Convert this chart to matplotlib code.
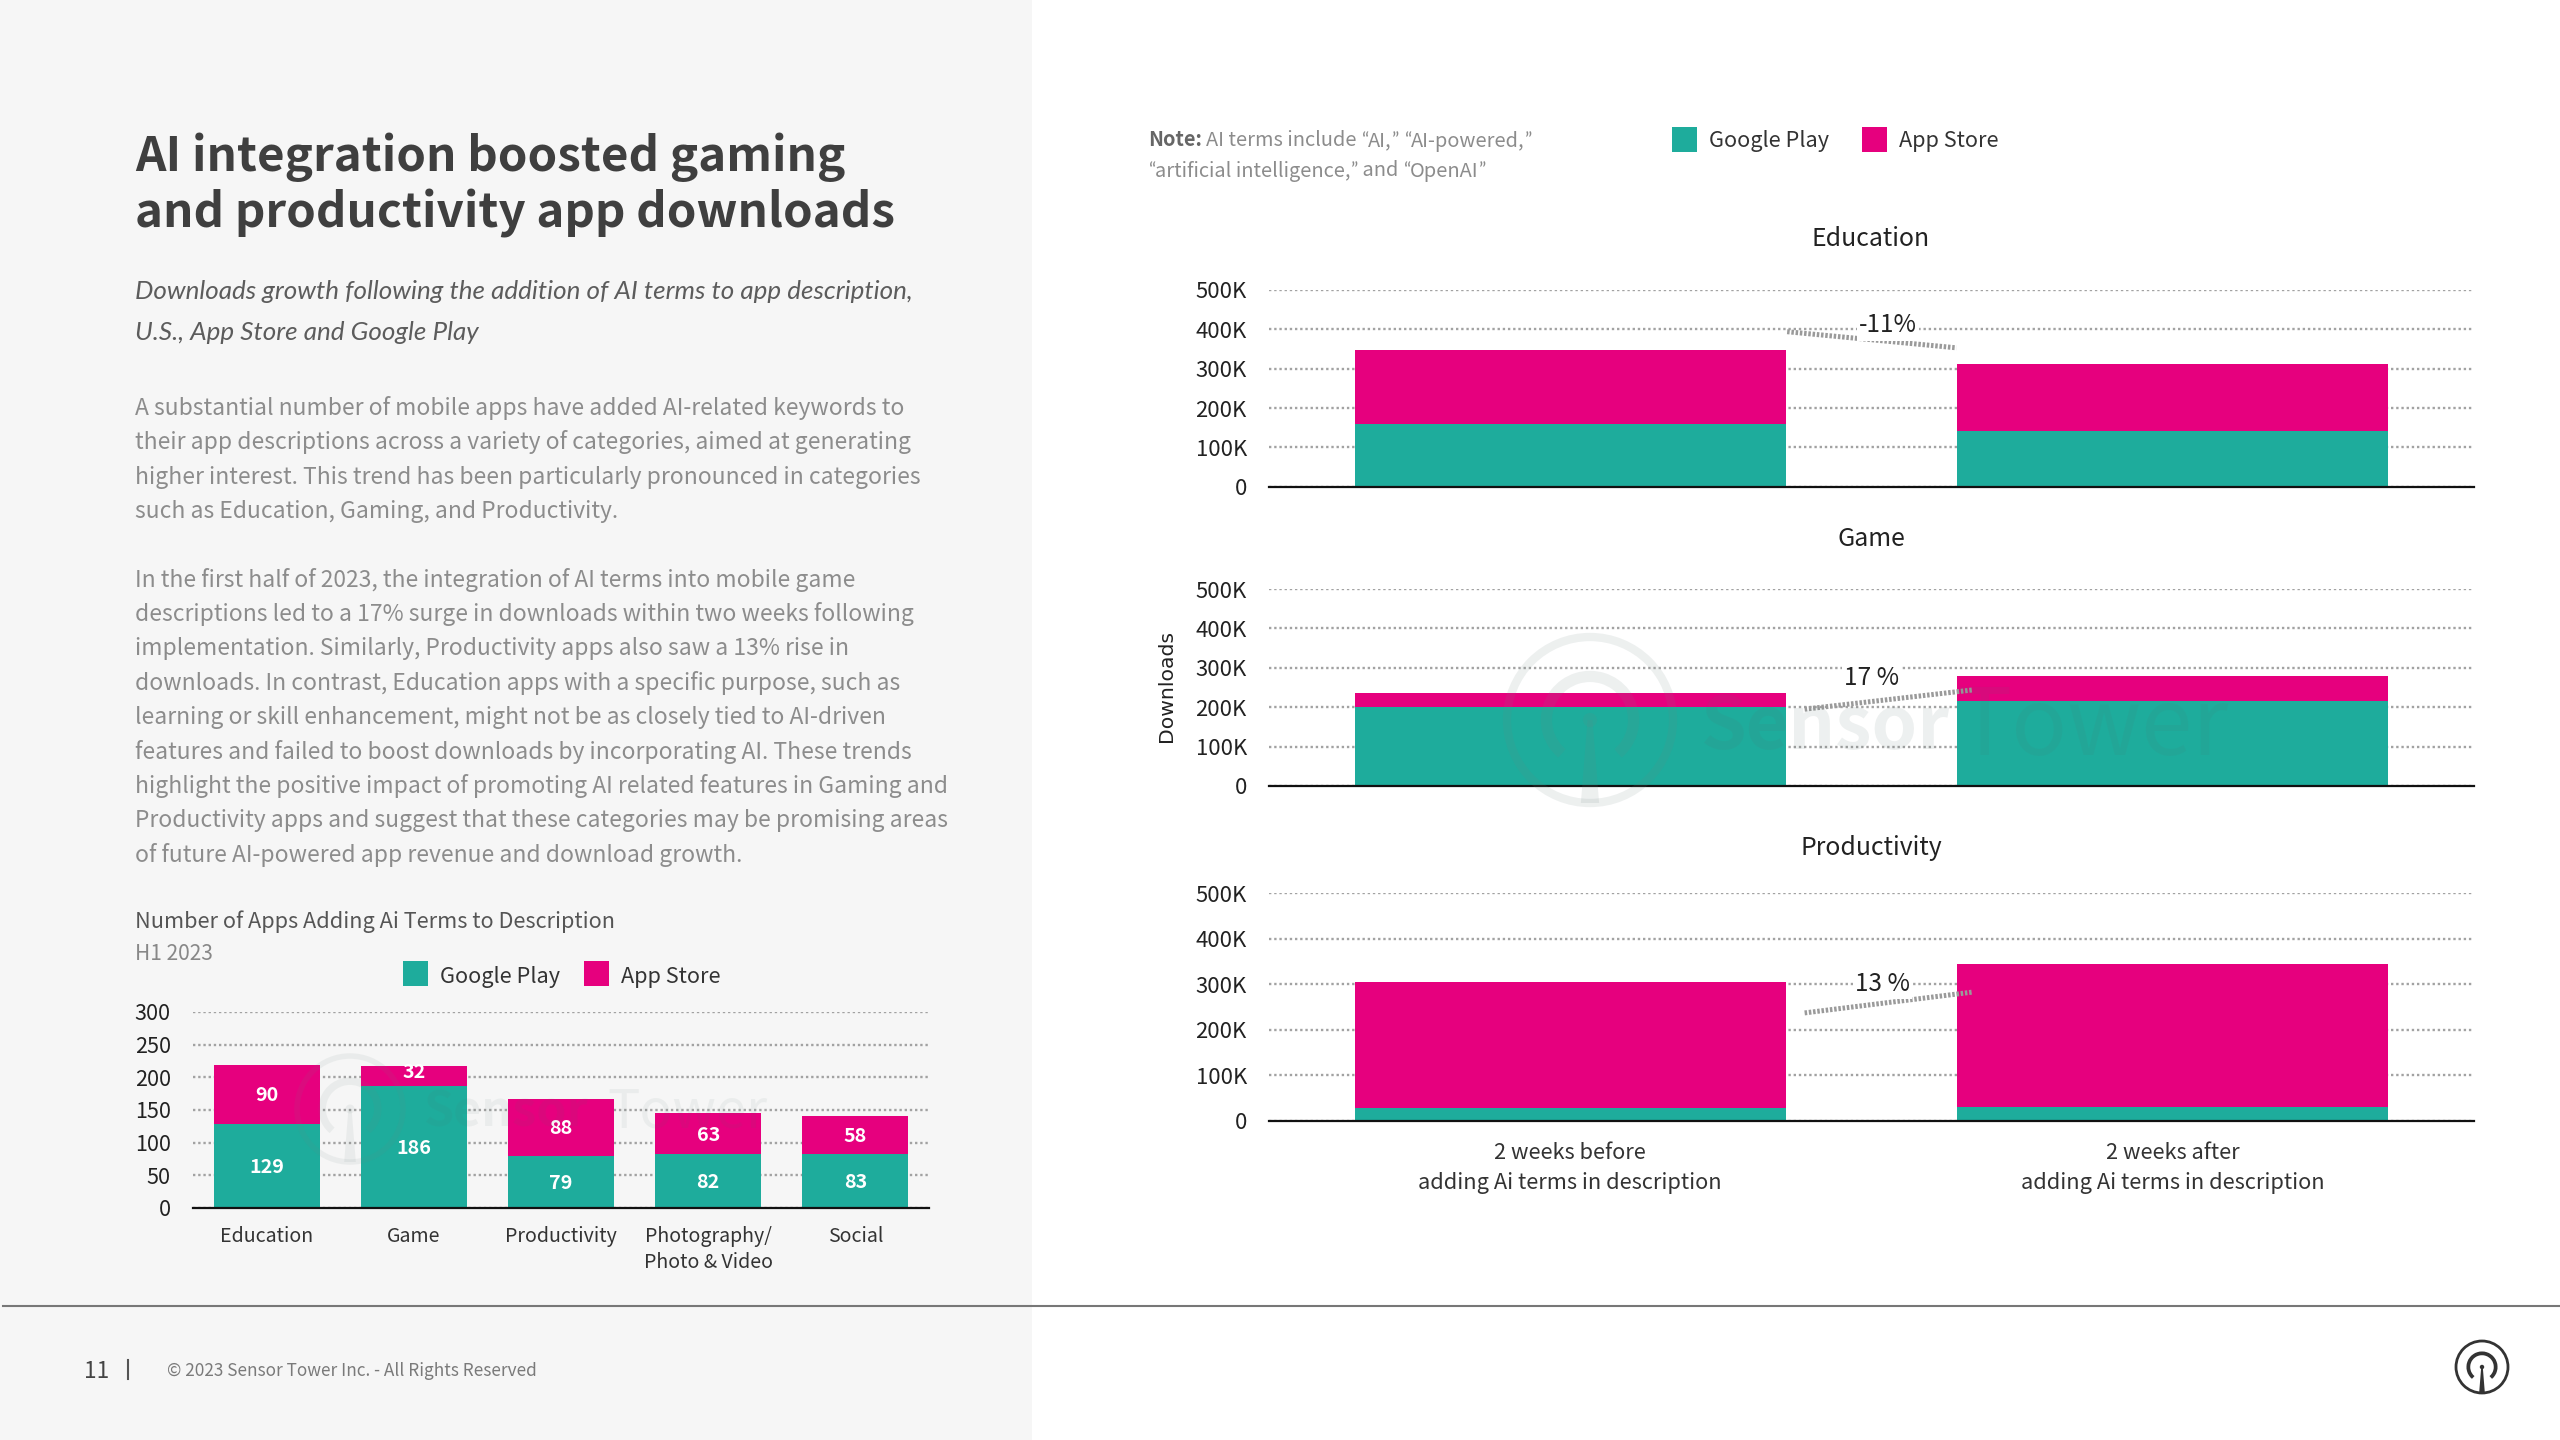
import matplotlib
matplotlib.use("Agg")
import re
import matplotlib.pyplot as plt
from matplotlib.patches import Rectangle, Circle, Arc, Polygon

W, H = 2560, 1440
GREEN = "#1EAC9C"
PINK = "#E6007E"
FONT = "Noto Sans CJK SC"
ITALIC = "Lato"
QUOTE = "Lato"

# data ------------------------------------------------------------
small_categories = ["Education", "Game", "Productivity", "Photography/\nPhoto & Video", "Social"]
small_google = [129, 186, 79, 82, 83]
small_apple = [90, 32, 88, 63, 58]
small_ticks = [0, 50, 100, 150, 200, 250, 300]

period_labels = ["2 weeks before\nadding Ai terms in description", "2 weeks after\nadding Ai terms in description"]
edu_google = [159, 142]
edu_apple = [188, 170]
game_google = [201, 216]
game_apple = [34, 62]
prod_google = [29, 30]
prod_apple = [277, 315]
k_ticks = [0, 100, 200, 300, 400, 500]
k_labels = ["0", "100K", "200K", "300K", "400K", "500K"]

title_lines = ["AI integration boosted gaming", "and productivity app downloads"]
subtitle_lines = ["Downloads growth following the addition of AI terms to app description,",
                  "U.S., App Store and Google Play"]
para1 = ["A substantial number of mobile apps have added AI-related keywords to",
         "their app descriptions across a variety of categories, aimed at generating",
         "higher interest. This trend has been particularly pronounced in categories",
         "such as Education, Gaming, and Productivity."]
para2 = ["In the first half of 2023, the integration of AI terms into mobile game",
         "descriptions led to a 17% surge in downloads within two weeks following",
         "implementation. Similarly, Productivity apps also saw a 13% rise in",
         "downloads. In contrast, Education apps with a specific purpose, such as",
         "learning or skill enhancement, might not be as closely tied to AI-driven",
         "features and failed to boost downloads by incorporating AI. These trends",
         "highlight the positive impact of promoting AI related features in Gaming and",
         "Productivity apps and suggest that these categories may be promising areas",
         "of future AI-powered app revenue and download growth."]
note_line1 = "AI terms include “AI,” “AI-powered,”"
note_line2 = "“artificial intelligence,” and “OpenAI”"

plt.rcParams["font.family"] = [FONT, "DejaVu Sans"]
fig = plt.figure(figsize=(W/100, H/100), dpi=100, facecolor="white")
rend = fig.canvas.get_renderer()

def width_at(s, size, **kw):
    tx = fig.text(0, 0, s, fontsize=size, **kw)
    w = tx.get_window_extent(rend).width
    tx.remove()
    return w

def size_for(s, px_w, **kw):
    return 20 * px_w / width_at(s, 20, **kw)

px = fig.add_axes([0, 0, 1, 1], zorder=0)
px.set_xlim(0, W); px.set_ylim(H, 0); px.axis("off")
px.add_patch(Rectangle((0, 0), 1032, H, color="#F6F6F6", lw=0))
px.plot([3, W], [1306, 1306], color="#777777", lw=1.5)

def t(x, y, s, size, color="#3d3d3d", **kw):
    kw.setdefault("va", "baseline")
    return px.text(x, y, s, fontsize=size, color=color, **kw)

def quoted(x, y, s, size, color, **kw):
    # curly quotes are full width in the CJK family, so they are set in another face
    for part in re.split("([“”])", s):
        if not part:
            continue
        if part in "“”":
            t(x, y, part, size, color, family=QUOTE)
            x += width_at("x" + part + "x", size, family=QUOTE) - width_at("xx", size, family=QUOTE)
        else:
            t(x, y, part, size, color, **kw)
            x += width_at("x" + part + "x", size, **kw) - width_at("xx", size, **kw)

LIGHT = dict(fontweight="light")
BOLD = dict(fontweight="bold")

s_title = size_for(title_lines[1], 760, **BOLD)
for s, y in zip(title_lines, [171, 227]):
    t(135, y, s, s_title, "#3f3f3f", **BOLD)
s_sub = size_for(subtitle_lines[0], 776, family=ITALIC, style="italic")
for s, y in zip(subtitle_lines, [299, 340]):
    t(135, y, s, s_sub, "#5c5c5c", family=ITALIC, style="italic")
s_body = size_for(para1[2], 783, **LIGHT)
for i, s in enumerate(para1):
    t(135, 415 + i*34.3, s, s_body, "#8c8c8c", **LIGHT)
for i, s in enumerate(para2):
    t(135, 586.5 + i*34.4, s, s_body, "#8c8c8c", **LIGHT)
t(135, 928, "Number of Apps Adding Ai Terms to Description",
  size_for("Number of Apps Adding Ai Terms to Description", 480, **LIGHT), "#555555", **LIGHT)
t(135, 960, "H1 2023", size_for("H1 2023", 78, **LIGHT), "#888888", **LIGHT)
s_note = size_for("artificial intelligence,", 196, **LIGHT)
t(1148, 146.5, "Note:", s_note, "#666666", **BOLD)
quoted(1206, 146.5, note_line1, s_note, "#8c8c8c", **LIGHT)
quoted(1148, 176.5, note_line2, s_note, "#8c8c8c", **LIGHT)
t(84, 1378, "11", size_for("11", 25), "#444444")
px.plot([127.5, 127.5], [1360, 1379], color="#555555", lw=1.5)
t(167, 1376, "© 2023 Sensor Tower Inc. - All Rights Reserved",
  size_for("© 2023 Sensor Tower Inc. - All Rights Reserved", 369, **LIGHT), "#7a7a7a", **LIGHT)

def legend(x1, x2, base, ytop, ybot):
    s = size_for("Google Play", 120)
    px.add_patch(Rectangle((x1, ytop), 25, ybot-ytop, color=GREEN, lw=0))
    t(x1+37, base, "Google Play", s, "#333333")
    px.add_patch(Rectangle((x2, ytop), 25, ybot-ytop, color=PINK, lw=0))
    t(x2+37, base, "App Store", s, "#333333")
legend(403, 584, 982.5, 961, 986)
legend(1672, 1862, 146.5, 127, 152)

def logo(ax_, cx, cy, r, color, alpha, lw):
    ax_.add_patch(Circle((cx, cy), r, fill=False, ec=color, alpha=alpha, lw=lw))
    ax_.add_patch(Arc((cx, cy), r*1.05, r*1.05, theta1=-230, theta2=50, ec=color, alpha=alpha, lw=lw*1.35))
    ax_.add_patch(Circle((cx, cy), r*0.085, color=color, alpha=alpha, lw=0))
    ax_.add_patch(Polygon([(cx-r*0.03, cy), (cx+r*0.03, cy), (cx+r*0.11, cy+r), (cx-r*0.11, cy+r)], color=color, alpha=alpha, lw=0))
logo(px, 2482, 1367, 26, "#333333", 1, 2)

def style(ax, ysize, xsize, pad):
    for s in ["top", "left", "right"]:
        ax.spines[s].set_visible(False)
    ax.spines["bottom"].set_linewidth(1.6)
    ax.spines["bottom"].set_color("#111111")
    ax.spines["bottom"].set_zorder(5)
    ax.grid(axis="y", color="#a2a2a2", ls=(0, (1, 1.2)), lw=1.7, zorder=1)
    ax.set_axisbelow(True)
    ax.tick_params(axis="both", length=0)
    ax.tick_params(axis="y", labelsize=ysize, labelcolor="#222222", pad=pad)
    ax.tick_params(axis="x", labelsize=xsize, labelcolor="#333333")

def small_chart():
    ax = fig.add_axes([193/W, 1-1208/H, (929-193)/W, (1208-1012)/H], zorder=2)
    ax.patch.set_alpha(0)
    xs = list(range(len(small_categories)))
    ax.bar(xs, small_google, 0.72, color=GREEN, zorder=3)
    ax.bar(xs, small_apple, 0.72, bottom=small_google, color=PINK, zorder=3)
    s_val = size_for("129", 35, **BOLD)
    for x, g, a in zip(xs, small_google, small_apple):
        ax.text(x, g/2 - 2, str(g), color="white", ha="center", va="center", fontsize=s_val, fontweight="bold", zorder=4)
        # the short top segment of Game carries its label near the top edge
        ya = g + a/2 + (6 if a < 40 else -2)
        ax.text(x, ya, str(a), color="white", ha="center", va="center", fontsize=s_val, fontweight="bold", zorder=4)
    ax.set_xlim(-0.5, 4.5); ax.set_ylim(0, 300)
    ax.set_yticks(small_ticks)
    ax.set_xticks(xs, small_categories, linespacing=1.33)
    style(ax, size_for("300", 36), size_for("Productivity", 112), 16)
    ax.tick_params(axis="x", pad=12.7)

def panel(top, bottom, google, apple, title, title_base, labels=False):
    ax = fig.add_axes([1269/W, 1-bottom/H, (2474-1269)/W, (bottom-top)/H], zorder=2)
    ax.patch.set_alpha(0)
    ax.bar([0, 1], google, 0.715, color=GREEN, zorder=3)
    ax.bar([0, 1], apple, 0.715, bottom=google, color=PINK, zorder=3)
    ax.set_xlim(-0.5, 1.5); ax.set_ylim(0, 500)
    ax.set_yticks(k_ticks, k_labels)
    if labels:
        ax.set_xticks([0, 1], period_labels, linespacing=1.5)
    else:
        ax.set_xticks([])
    style(ax, size_for("500K", 51), size_for("adding Ai terms in description", 304), 16)
    ax.tick_params(axis="x", pad=15)
    t(1871, title_base, title, size_for("Education", 118), "#222222", ha="center")
    return ax

def trend(ax, x0, y0, x1, y1, label, lx, ly):
    ax.plot([x0, x1], [y0, y1], color="#9a9a9a", lw=3.6, ls=(0, (0.5, 0.35)), zorder=6, clip_on=False)
    ax.text(lx, ly, label, fontsize=size_for("-11%", 58), color="#222222", ha="center", va="center",
            zorder=7, bbox=dict(fc="white", ec="none", pad=1.5))

small_chart()
a1 = panel(290, 486.7, edu_google, edu_apple, "Education", 246.5)
a2 = panel(589, 786, game_google, game_apple, "Game", 545.5)
a3 = panel(893.3, 1120.7, prod_google, prod_apple, "Productivity", 855, labels=True)
trend(a1, 0.36, 394, 0.641, 353, "-11%", 0.527, 410)
trend(a2, 0.389, 195, 0.669, 244, "17 %", 0.5, 273)
trend(a3, 0.389, 237, 0.669, 283, "13 %", 0.518, 300)

t(1166, 686, "Downloads", size_for("Downloads", 112, family="DejaVu Sans"), "#222222",
  rotation=90, ha="center", family="DejaVu Sans", va="center")

# watermarks
wm = fig.add_axes([0, 0, 1, 1], zorder=3)
wm.set_xlim(0, W); wm.set_ylim(H, 0); wm.axis("off"); wm.patch.set_alpha(0)
logo(wm, 1590, 720, 83, "#6f8581", 0.12, 6)
wm.text(1701, 728, "Sensor", fontsize=size_for("Sensor", 250, **BOLD), color="#55706c", alpha=0.10, va="center", **BOLD)
wm.text(1956, 728, "Tower", fontsize=size_for("Tower", 272, **LIGHT), color="#55706c", alpha=0.09, va="center", **LIGHT)
logo(wm, 350, 1109, 53, "#6f8581", 0.09, 4)
wm.text(424, 1112, "Sensor", fontsize=size_for("Sensor", 165, **BOLD), color="#55706c", alpha=0.07, va="center", **BOLD)
wm.text(607, 1112, "Tower", fontsize=size_for("Tower", 160, **LIGHT), color="#55706c", alpha=0.07, va="center", **LIGHT)

fig.savefig("out.png", dpi=100)
